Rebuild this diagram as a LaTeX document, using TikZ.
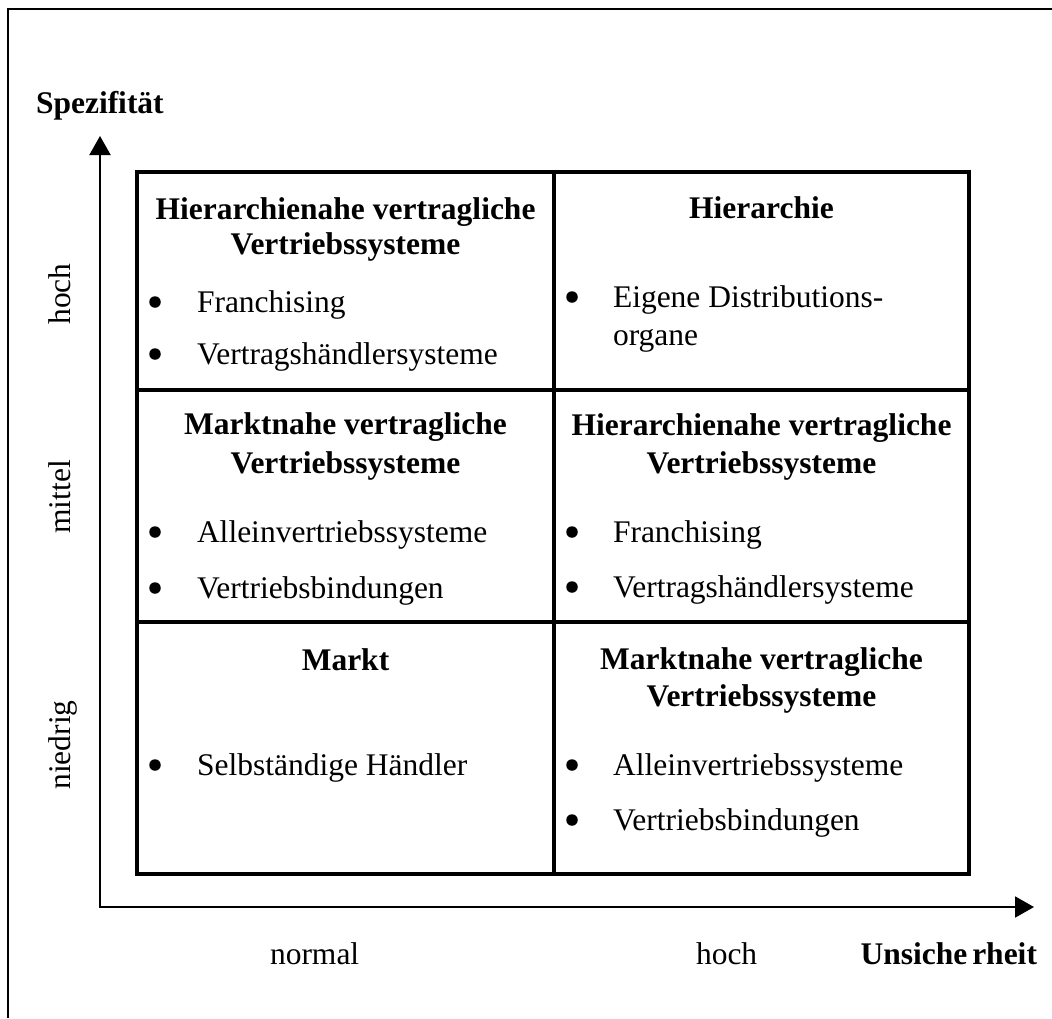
\documentclass[tikz,border=0pt]{standalone}
\usepackage{fontspec}
\setmainfont{Liberation Serif}
\usetikzlibrary{arrows.meta}
\begin{document}
\begin{tikzpicture}[x=1pt,y=-1pt,
  lbl/.style={inner sep=0pt, outer sep=0pt, anchor=base, font=\fontsize{31.5}{36}\selectfont},
  ttl/.style={lbl, font=\fontsize{31.5}{36}\selectfont\bfseries},
  item/.style={lbl, anchor=base west},
  bul/.style={circle, fill=black, inner sep=0pt, minimum size=11.5pt},
  vlbl/.style={lbl, rotate=90},
  gridline/.style={line width=3.8pt},
  axisline/.style={line width=2pt, line join=miter},
  framed/.style={line width=2pt}]
\useasboundingbox (0,0) rectangle (1052,1018);
% outer frame
\coordinate (f1) at (8,1018);
\coordinate (f2) at (8,9);
\coordinate (f3) at (1052,9);
\draw[framed] (f1) -- (f2) -- (f3);
% grid
\coordinate (g1) at (137,172);
\coordinate (g2) at (969,874);
\coordinate (m1) at (554,172);
\coordinate (m2) at (554,874);
\coordinate (h1a) at (137,390);
\coordinate (h1b) at (969,390);
\coordinate (h2a) at (137,622);
\coordinate (h2b) at (969,622);
\draw[gridline] (g1) rectangle (g2);
\draw[gridline] (m1) -- (m2);
\draw[gridline] (h1a) -- (h1b);
\draw[gridline] (h2a) -- (h2b);
% axes
\coordinate (ytip) at (100,136);
\coordinate (orig) at (100,907);
\coordinate (xtip) at (1034,907);
\draw[axisline, {Triangle[width=21pt,length=19pt]}-{Triangle[width=21pt,length=19pt]}] (ytip) -- (orig) -- (xtip);
% axis labels
\node[ttl, anchor=base west] (spez) at (36,113) {Spezifität};
\node[lbl, anchor=base west] (normal) at (270,964) {normal};
\node[lbl, anchor=base west] (hochx) at (696,964) {hoch};
\node[ttl, anchor=base east] (unsich) at (1037,964) {Unsiche\kern5pt rheit};
\node[vlbl] (hochy) at (70,294) {hoch};
\node[vlbl] (mittel) at (70,497) {mittel};
\node[vlbl] (niedrig) at (70,745) {niedrig};
% top-left
\node[ttl] (tl1) at (345.5,219) {Hierarchienahe vertragliche};
\node[ttl] (tl2) at (345.5,254) {Vertriebssysteme};
\node[bul] (tlb1) at (155,302) {};
\node[item] (tli1) at (197,312) {Franchising};
\node[bul] (tlb2) at (155,354) {};
\node[item] (tli2) at (197,364) {Vertragshändlersysteme};
% top-right
\node[ttl] (tr1) at (761.5,218) {Hierarchie};
\node[bul] (trb1) at (572,297) {};
\node[item] (tri1) at (613,307) {Eigene Distributions-};
\node[item] (tri2) at (613,345) {organe};
% middle-left
\node[ttl] (ml1) at (345.5,434) {Marktnahe vertragliche};
\node[ttl] (ml2) at (345.5,473) {Vertriebssysteme};
\node[bul] (mlb1) at (155,532) {};
\node[item] (mli1) at (197,542) {Alleinvertriebssysteme};
\node[bul] (mlb2) at (155,588) {};
\node[item] (mli2) at (197,598) {Vertriebsbindungen};
% middle-right
\node[ttl] (mr1) at (761.5,435) {Hierarchienahe vertragliche};
\node[ttl] (mr2) at (761.5,473) {Vertriebssysteme};
\node[bul] (mrb1) at (572,532) {};
\node[item] (mri1) at (613,542) {Franchising};
\node[bul] (mrb2) at (572,587) {};
\node[item] (mri2) at (613,597) {Vertragshändlersysteme};
% bottom-left
\node[ttl] (bl1) at (345.5,670) {Markt};
\node[bul] (blb1) at (155,765) {};
\node[item] (bli1) at (197,775) {Selbständige Händler};
% bottom-right
\node[ttl] (br1) at (761.5,669) {Marktnahe vertragliche};
\node[ttl] (br2) at (761.5,706) {Vertriebssysteme};
\node[bul] (brb1) at (572,765) {};
\node[item] (bri1) at (613,775) {Alleinvertriebssysteme};
\node[bul] (brb2) at (572,820) {};
\node[item] (bri2) at (613,830) {Vertriebsbindungen};
\end{tikzpicture}
\end{document}
